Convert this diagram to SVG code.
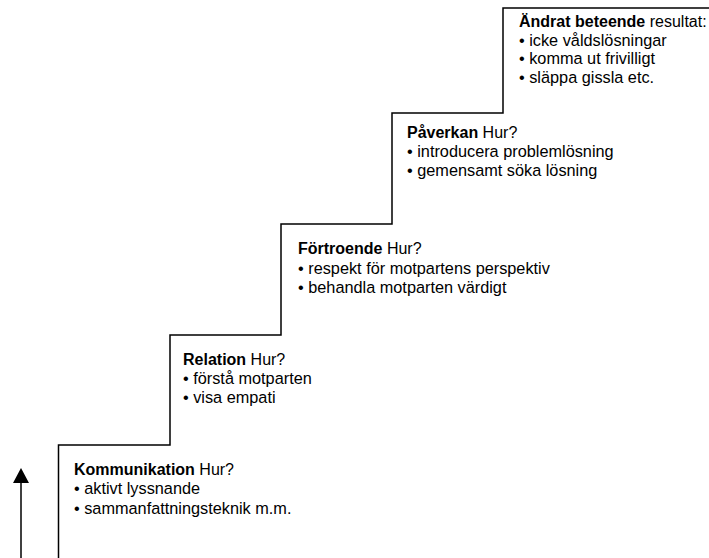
<svg xmlns="http://www.w3.org/2000/svg" width="709" height="558" viewBox="0 0 709 558">
<style>
  text { font-family: "Liberation Sans", Arial, sans-serif; font-size: 16px; fill: #000; }
  text.li { font-size: 16.3px; }
  .b { font-weight: bold; }
  .stair { fill: none; stroke: #000; stroke-width: 1.5; }
  .arrow { fill: none; stroke: #000; stroke-width: 1.5; }
</style>
<defs>
  <marker id="ah" markerUnits="userSpaceOnUse" viewBox="0 0 15 16" refX="0" refY="8" markerWidth="15" markerHeight="16" orient="auto">
    <path d="M0,0 L15,8 L0,16 z" fill="#000"/>
  </marker>
</defs>
<g id="connectors">
  <path class="stair" d="M58.5,558 V445 H170 V335 H281 V224 H392 V113 H503 V8 H709"/>
  <line class="arrow" x1="21" y1="558" x2="21" y2="483" marker-end="url(#ah)"/>
</g>
<g id="kommunikation">
  <text x="74" y="475"><tspan class="b">Kommunikation</tspan> Hur?</text>
  <text class="li" x="74" y="494">• aktivt lyssnande</text>
  <text class="li" x="74" y="513.5">• sammanfattningsteknik m.m.</text>
</g>
<g id="relation">
  <text x="183" y="364.5"><tspan class="b">Relation</tspan> Hur?</text>
  <text class="li" x="183" y="384">• förstå motparten</text>
  <text class="li" x="183" y="403">• visa empati</text>
</g>
<g id="fortroende">
  <text x="298" y="254"><tspan class="b">Förtroende</tspan> Hur?</text>
  <text class="li" x="298" y="274">• respekt för motpartens perspektiv</text>
  <text class="li" x="298" y="293">• behandla motparten värdigt</text>
</g>
<g id="paverkan">
  <text x="407" y="137.5"><tspan class="b">Påverkan</tspan> Hur?</text>
  <text class="li" x="407" y="156.5">• introducera problemlösning</text>
  <text class="li" x="407" y="175.5">• gemensamt söka lösning</text>
</g>
<g id="andrat-beteende">
  <text x="519" y="27"><tspan class="b">Ändrat beteende</tspan> resultat:</text>
  <text class="li" x="519" y="45.5">• icke våldslösningar</text>
  <text class="li" x="519" y="64">• komma ut frivilligt</text>
  <text class="li" x="519" y="82.5">• släppa gissla etc.</text>
</g>
</svg>
